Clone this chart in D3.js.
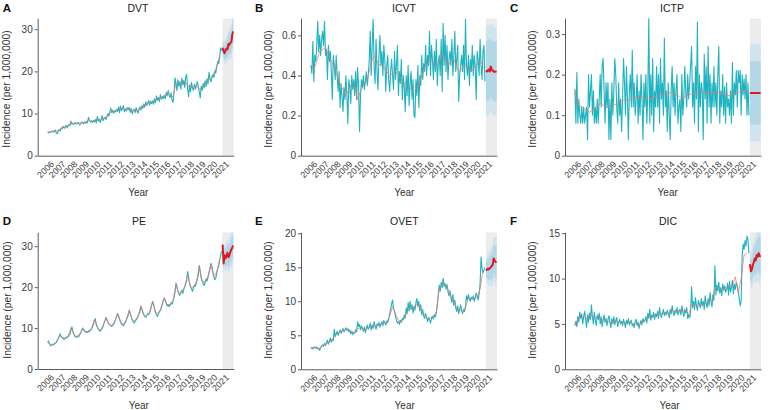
<!DOCTYPE html>
<html><head><meta charset="utf-8">
<script src="https://cdn.jsdelivr.net/npm/d3@7"></script>
<style>body{margin:0;background:#fff;} svg{display:block;font-family:"Liberation Sans",Arial,sans-serif;}</style>
</head><body><svg id="c" width="772" height="410"></svg>
<script>
// ---------- DATA ----------
const years = [2006,2007,2008,2009,2010,2011,2012,2013,2014,2015,2016,2017,2018,2019,2020,2021];

// DVT (monthly observed 2006-2020, quarterly fitted, monthly forecast 2021)
const dvtObs = [
5.5,5.4,5.6,5.5,5.7,5.9,5.6,5.8,6.1,5.3,5.2,5.9,
6.2,5.9,6.6,6.4,7.0,6.5,6.8,7.2,6.6,7.0,7.4,7.1,
8.2,7.5,7.7,7.4,7.8,7.6,7.5,7.9,7.7,7.3,7.6,8.0,
7.8,7.6,8.0,7.7,8.1,7.8,9.1,8.5,8.0,8.2,7.9,8.4,
8.0,8.6,7.8,9.3,8.2,8.7,7.9,8.4,9.5,8.3,8.8,9.1,
8.6,9.2,10.0,9.4,10.4,11.3,10.2,10.8,10.1,10.6,10.4,11.0,
10.5,11.6,10.2,11.8,10.7,11.2,11.9,10.4,11.1,10.6,11.4,10.9,
11.5,10.3,11.2,9.9,10.8,11.0,10.2,11.4,10.6,10.1,11.0,11.6,
10.8,11.9,11.2,12.3,11.5,12.8,11.9,12.5,13.1,12.0,12.9,12.4,
13.0,12.2,13.5,12.6,14.2,13.1,13.8,12.9,14.5,13.4,14.0,13.6,
14.3,13.5,15.0,14.2,15.5,14.4,13.8,14.9,13.2,12.6,14.8,18.5,
17.2,15.4,18.0,16.5,17.6,15.8,18.4,16.8,17.9,16.2,18.6,19.3,
16.0,14.0,16.8,15.2,17.4,16.1,15.5,17.0,15.8,16.6,17.6,16.3,
15.1,13.7,16.5,15.5,17.2,16.0,17.8,16.4,18.3,17.0,19.8,18.2,
17.5,18.4,19.2,18.6,20.1,19.6,21.2,22.4,21.8,23.5,25.6,24.9];
const dvtFit = [5.6,5.7,5.8,5.8, 6.2,6.6,6.9,7.2, 7.7,7.7,7.8,7.7, 7.9,8.0,8.4,8.2, 8.3,8.7,8.6,8.8,
 9.3,10.1,10.5,10.6, 11.0,11.2,11.0,11.0, 10.9,10.6,10.8,10.8, 11.3,12.0,12.3,12.6, 12.9,13.3,13.5,13.9,
 14.2,14.6,14.3,14.0, 17.2,17.0,17.3,17.6, 16.5,16.2,16.3,16.6, 15.8,16.2,16.9,17.8, 18.6,19.6,21.2,23.8];
const dvtFc   = [25.6,24.8,24.3,25.0,25.4,25.2,26.5,26.3,26.8,27.0,28.8,29.5];
const dvtLo80 = [24.1,23.1,22.5,23.0,23.3,23.0,24.2,23.9,24.3,24.4,26.1,26.7];
const dvtHi80 = [27.1,26.5,26.1,27.0,27.5,27.4,28.8,28.7,29.3,29.6,31.5,32.3];
const dvtLo95 = [23.3,22.2,21.5,22.0,22.2,21.8,23.0,22.6,22.9,23.0,24.7,25.2];
const dvtHi95 = [27.9,27.4,27.1,28.0,28.6,28.6,30.0,30.0,30.7,31.0,32.9,33.8];

// ICVT
const icvtObs = [
0.45,0.41,0.57,0.37,0.50,0.47,0.55,0.67,0.52,0.60,0.50,0.58,
0.62,0.55,0.67,0.50,0.53,0.38,0.55,0.47,0.52,0.42,0.28,0.50,
0.45,0.38,0.50,0.40,0.32,0.42,0.24,0.36,0.30,0.22,0.34,0.28,
0.40,0.30,0.16,0.38,0.34,0.26,0.40,0.33,0.38,0.30,0.42,0.28,
0.44,0.35,0.12,0.30,0.38,0.34,0.40,0.33,0.37,0.42,0.35,0.40,
0.48,0.62,0.40,0.55,0.68,0.45,0.36,0.58,0.42,0.33,0.50,0.60,
0.45,0.52,0.40,0.55,0.48,0.32,0.45,0.50,0.38,0.32,0.42,0.48,
0.40,0.33,0.52,0.38,0.45,0.55,0.30,0.42,0.36,0.48,0.28,0.40,
0.34,0.22,0.40,0.30,0.45,0.25,0.36,0.42,0.28,0.38,0.20,0.19,
0.38,0.30,0.45,0.24,0.40,0.35,0.50,0.38,0.46,0.42,0.55,0.40,
0.50,0.45,0.62,0.40,0.55,0.48,0.38,0.52,0.42,0.58,0.35,0.46,
0.50,0.40,0.58,0.32,0.66,0.45,0.60,0.42,0.55,0.38,0.48,0.52,
0.45,0.58,0.40,0.50,0.62,0.42,0.48,0.55,0.27,0.40,0.45,0.50,
0.42,0.55,0.38,0.68,0.45,0.40,0.50,0.35,0.48,0.42,0.55,0.40,
0.50,0.45,0.28,0.52,0.48,0.40,0.58,0.45,0.38,0.52,0.55,0.37];
const icvtFit = [0.45,0.43,0.47,0.52, 0.53,0.54,0.50,0.47, 0.44,0.40,0.36,0.33, 0.30,0.33,0.36,0.35, 0.28,0.32,0.35,0.37,
 0.42,0.48,0.50,0.46, 0.45,0.44,0.42,0.40, 0.41,0.42,0.40,0.38, 0.36,0.35,0.34,0.32, 0.33,0.36,0.40,0.44,
 0.46,0.48,0.47,0.45, 0.47,0.50,0.48,0.45, 0.47,0.48,0.44,0.42, 0.44,0.45,0.43,0.42, 0.44,0.46,0.47,0.45];
const icvtFc   = [0.425,0.420,0.425,0.430,0.420,0.445,0.430,0.425,0.420,0.418,0.420,0.420];
const icvtLo80 = [0.28,0.27,0.27,0.28,0.27,0.30,0.28,0.28,0.27,0.27,0.27,0.27];
const icvtHi80 = [0.57,0.57,0.58,0.58,0.57,0.59,0.58,0.57,0.57,0.57,0.57,0.57];
const icvtLo95 = [0.21,0.19,0.20,0.21,0.20,0.23,0.21,0.20,0.20,0.20,0.20,0.20];
const icvtHi95 = [0.64,0.65,0.65,0.65,0.64,0.66,0.65,0.65,0.64,0.64,0.64,0.64];

// ICTP
const ictpObs = [
0.165,0.08,0.205,0.08,0.14,0.10,0.08,0.12,0.08,0.12,0.08,0.10,
0.12,0.04,0.20,0.12,0.16,0.20,0.10,0.16,0.08,0.12,0.08,0.14,
0.08,0.14,0.20,0.12,0.22,0.24,0.16,0.08,0.18,0.12,0.18,0.04,
0.14,0.04,0.18,0.10,0.16,0.24,0.20,0.12,0.08,0.18,0.10,0.14,
0.06,0.14,0.24,0.18,0.10,0.22,0.14,0.04,0.16,0.20,0.12,0.26,
0.12,0.18,0.10,0.14,0.20,0.08,0.16,0.10,0.20,0.14,0.04,0.18,
0.12,0.20,0.08,0.16,0.34,0.08,0.20,0.10,0.24,0.06,0.16,0.12,
0.22,0.12,0.20,0.08,0.24,0.14,0.18,0.10,0.29,0.12,0.16,0.06,
0.18,0.10,0.04,0.16,0.22,0.12,0.18,0.10,0.16,0.20,0.08,0.12,
0.14,0.06,0.20,0.10,0.14,0.22,0.16,0.12,0.20,0.14,0.18,0.22,
0.27,0.12,0.18,0.08,0.22,0.14,0.33,0.06,0.20,0.12,0.18,0.16,
0.04,0.25,0.14,0.22,0.08,0.27,0.12,0.20,0.08,0.18,0.12,0.22,
0.12,0.18,0.10,0.20,0.27,0.08,0.16,0.12,0.20,0.10,0.17,0.08,
0.18,0.12,0.14,0.10,0.16,0.08,0.23,0.10,0.18,0.15,0.21,0.12,
0.21,0.18,0.21,0.10,0.20,0.15,0.19,0.14,0.20,0.10,0.18,0.10];
const ictpFit = [0.160,0.125,0.122,0.118, 0.110,0.108,0.112,0.118, 0.125,0.130,0.122,0.118, 0.124,0.128,0.126,0.128,
 0.134,0.138,0.136,0.140, 0.143,0.145,0.142,0.144, 0.142,0.140,0.142,0.145, 0.146,0.148,0.150,0.152,
 0.154,0.156,0.152,0.150, 0.145,0.143,0.147,0.150, 0.152,0.155,0.156,0.158, 0.158,0.155,0.156,0.157,
 0.155,0.156,0.154,0.152, 0.150,0.148,0.152,0.155, 0.156,0.158,0.160,0.158];
const ictpFc   = [0.155,0.155,0.155,0.155,0.155,0.155,0.155,0.155,0.155,0.155,0.155,0.155];
const ictpLo80 = [0.077,0.077,0.077,0.077,0.077,0.077,0.077,0.077,0.077,0.077,0.077,0.077];
const ictpHi80 = [0.233,0.233,0.233,0.233,0.233,0.233,0.233,0.233,0.233,0.233,0.233,0.233];
const ictpLo95 = [0.035,0.035,0.035,0.035,0.035,0.035,0.035,0.035,0.035,0.035,0.035,0.035];
const ictpHi95 = [0.275,0.275,0.275,0.275,0.275,0.275,0.275,0.275,0.275,0.275,0.275,0.275];

// PE
const peObs = [
6.5,6.8,6.2,5.7,5.9,5.8,6.0,6.1,6.3,6.5,7.0,7.4,
8.0,8.6,7.9,7.6,7.4,7.2,7.5,7.8,7.6,7.9,8.3,8.5,
9.5,10.3,9.2,8.5,8.0,7.8,7.7,8.1,7.9,8.4,8.8,9.4,
10.0,9.6,9.3,9.0,9.2,8.9,9.3,9.1,9.5,9.7,10.2,10.8,
11.8,12.3,11.0,10.4,9.8,9.5,9.2,9.6,9.8,10.4,11.2,11.8,
12.6,12.1,11.4,11.0,10.8,10.5,10.4,10.7,11.0,11.5,12.2,12.8,
13.5,13.0,12.2,11.5,11.0,10.8,10.5,11.0,11.3,12.0,12.6,13.2,
14.2,13.6,12.8,12.0,11.5,11.2,11.6,12.0,12.3,12.8,13.4,14.0,
15.2,14.6,13.8,13.2,12.8,12.6,13.0,13.5,13.3,13.8,14.5,15.5,
16.5,15.8,14.6,13.8,13.2,12.8,13.5,14.0,14.3,15.0,15.8,16.8,
17.2,16.8,16.0,15.4,15.8,15.2,15.6,16.2,15.8,16.6,17.5,18.6,
21.0,20.2,19.0,18.5,18.0,18.8,19.2,18.4,19.5,20.0,20.8,21.5,
23.8,22.5,21.0,20.0,19.6,19.0,19.8,20.5,20.2,21.0,22.0,23.0,
25.3,23.8,22.2,21.5,20.8,20.4,21.2,22.0,21.5,22.4,23.5,24.6,
25.8,25.0,23.8,22.5,21.8,22.2,23.5,24.5,25.2,26.5,27.8,28.8];
const peFit = [6.4,6.0,6.1,6.6, 8.2,7.7,7.6,8.0, 10.0,8.4,7.9,8.5, 9.8,9.0,9.2,9.8, 12.0,10.2,9.4,10.6,
 12.5,11.0,10.6,11.6, 13.6,11.6,10.8,12.2, 14.5,12.0,11.8,13.0, 15.5,13.2,13.1,14.0, 16.5,13.8,13.6,15.2,
 17.5,15.5,15.8,16.8, 20.5,18.4,18.8,20.2, 23.0,20.0,20.0,21.3, 25.0,21.4,21.4,22.8, 25.5,22.4,23.8,26.8];
const peFc   = [30.4,25.8,27.8,27.0,27.6,28.4,27.3,27.8,28.6,29.2,29.6,30.2];
const peLo80 = [28.8,24.0,25.8,24.9,25.3,26.0,24.8,25.2,25.9,26.4,26.7,27.2];
const peHi80 = [32.0,27.6,29.8,29.1,29.9,30.8,29.8,30.4,31.3,32.0,32.5,33.2];
const peLo95 = [27.9,23.0,24.7,23.8,24.1,24.7,23.5,23.8,24.4,24.9,25.1,25.6];
const peHi95 = [32.9,28.6,30.9,30.2,31.1,32.1,31.1,31.8,32.8,33.5,34.1,34.8];

// OVET
const ovetObs = [
3.1,3.2,3.0,3.3,3.2,3.1,3.3,3.0,3.1,2.8,3.2,3.4,
3.6,3.4,3.8,3.5,3.9,4.3,3.7,4.1,4.6,4.0,4.4,4.2,
5.9,4.8,5.2,5.6,5.0,5.4,5.8,5.3,5.6,6.0,5.5,5.8,
6.1,5.7,6.0,5.5,5.8,5.2,5.6,5.1,5.4,5.3,5.8,5.5,
7.0,6.3,6.6,5.8,6.4,6.0,5.6,6.2,5.4,6.0,6.5,5.9,
6.2,6.8,5.8,6.5,6.0,7.0,6.3,5.9,6.7,6.4,6.9,6.2,
6.6,7.0,6.4,7.2,6.8,6.5,7.1,6.9,7.4,8.2,8.8,9.6,
10.2,9.0,8.5,7.8,7.2,6.8,7.0,6.6,7.2,6.9,7.5,7.3,
8.0,7.5,9.0,8.2,9.8,8.6,10.0,8.8,9.5,8.3,9.2,8.7,
9.8,10.4,9.2,10.0,8.6,9.5,8.0,8.8,7.8,7.5,8.2,7.6,
7.0,7.6,7.3,6.8,7.5,7.8,7.4,8.0,7.7,8.3,9.5,11.0,
12.4,11.5,12.8,12.0,13.4,12.2,12.6,11.8,12.5,11.4,10.8,11.6,
10.5,9.8,11.0,9.4,10.2,9.0,8.5,9.3,8.2,8.8,9.5,8.6,
8.2,8.8,8.5,9.2,10.8,10.2,11.0,10.4,10.0,10.6,10.3,10.8,
10.0,10.5,11.2,10.8,10.2,11.0,12.5,16.5,14.8,14.2,14.6,15.0];
const ovetFit = [3.1,3.2,3.1,3.1, 3.4,3.7,3.9,4.2, 4.8,5.2,5.5,5.7, 5.9,5.8,5.5,5.4, 6.0,6.1,5.9,5.9,
 6.2,6.3,6.4,6.5, 6.6,6.8,7.0,7.8, 9.2,8.2,7.2,7.0, 7.6,8.4,9.0,9.0, 9.6,9.4,8.6,8.0,
 7.5,7.6,7.8,8.5, 11.8,12.4,12.5,11.8, 10.8,10.0,9.0,8.8, 8.4,9.2,10.4,10.4, 10.5,10.7,11.8,14.5];
const ovetFc   = [14.7,14.6,14.8,14.7,14.9,15.0,15.2,15.4,16.3,16.0,15.8,15.8];
const ovetLo80 = [13.6,13.3,13.3,13.1,13.2,13.2,13.3,13.4,14.2,13.8,13.5,13.4];
const ovetHi80 = [15.8,15.9,16.3,16.3,16.6,16.8,17.1,17.4,18.4,18.2,18.1,18.2];
const ovetLo95 = [13.0,12.6,12.5,12.2,12.3,12.2,12.3,12.3,13.1,12.6,12.3,12.1];
const ovetHi95 = [16.4,16.6,17.1,17.2,17.5,17.8,18.1,18.5,19.5,19.4,19.3,19.5];

// DIC
const dicObs = [
4.8,5.3,4.7,5.8,5.2,6.3,5.6,6.1,5.0,5.8,6.4,5.5,
4.6,6.0,5.2,6.2,5.5,7.1,5.8,5.0,6.3,5.4,4.8,6.0,
5.5,6.2,5.0,5.8,4.7,5.4,6.0,5.2,5.6,4.8,5.5,5.9,
5.2,4.6,5.6,5.0,5.8,4.9,5.4,5.7,4.7,5.2,5.5,5.0,
5.3,4.8,5.5,5.1,4.6,5.4,5.0,5.6,4.9,5.2,5.4,4.8,
5.0,4.6,5.3,5.5,4.8,5.2,4.5,5.0,5.4,4.9,5.6,5.2,
5.4,5.8,5.1,6.2,5.6,6.6,5.4,6.0,5.7,6.3,5.5,6.1,
5.8,6.4,5.6,6.8,6.0,5.7,6.2,6.6,5.9,6.3,6.0,6.5,
6.2,5.7,6.6,6.1,7.0,6.3,5.9,6.5,6.2,6.8,6.0,6.4,
6.6,6.0,7.0,6.3,5.8,6.6,6.2,6.8,5.6,6.0,5.7,6.3,
9.1,6.8,7.5,6.6,7.9,7.0,6.5,7.6,7.2,6.8,7.8,7.0,
7.5,6.6,8.1,7.2,6.8,7.8,7.0,8.5,7.4,6.9,8.2,7.6,
11.4,8.2,9.3,8.6,9.6,8.4,9.0,8.1,9.4,8.7,9.2,8.5,
8.8,9.5,8.2,9.7,8.5,9.0,9.8,8.3,9.4,8.8,9.6,9.2,
8.6,7.8,7.0,7.5,12.5,13.8,13.2,14.2,13.6,14.7,14.3,12.8];
const dicFit = [4.9,5.5,5.7,5.8, 5.6,6.0,5.9,5.6, 5.9,5.6,5.4,5.3, 5.2,5.3,5.3,5.2, 5.2,5.1,5.2,5.1,
 5.0,5.0,4.9,5.2, 5.4,5.7,5.8,5.9, 6.0,6.2,6.1,6.2, 6.2,6.3,6.4,6.4, 6.5,6.4,6.5,6.0,
 7.2,7.1,7.0,7.2, 7.1,7.3,7.5,7.6, 9.0,9.0,8.8,8.9, 9.0,9.2,9.1,10.2, 8.4,10.0,12.6,12.8];
const dicFc   = [11.6,10.8,11.0,11.5,11.8,12.2,12.0,12.6,12.4,12.8,12.5,12.4];
const dicLo80 = [10.6,9.6,9.7,10.1,10.3,10.6,10.3,10.8,10.5,10.8,10.4,10.3];
const dicHi80 = [12.6,12.0,12.3,12.9,13.3,13.8,13.7,14.4,14.3,14.8,14.6,14.5];
const dicLo95 = [10.0,8.9,9.0,9.3,9.5,9.8,9.4,9.9,9.5,9.8,9.3,9.2];
const dicHi95 = [13.2,12.7,13.0,13.7,14.1,14.6,14.6,15.3,15.3,15.8,15.7,15.6];

const dvtTicks = [0,10,20,30], icvtTicks = [0,0.2,0.4,0.6], ictpTicks = [0,0.1,0.2,0.3];
const peTicks = [0,10,20,30], ovetTicks = [0,5,10,15,20], dicTicks = [0,5,10,15];

// ---------- LAYOUT ----------
const panels = [
 {letter:"A", title:"DVT",  obs:dvtObs,  fit:dvtFit,  fc:dvtFc,  lo80:dvtLo80,  hi80:dvtHi80,  lo95:dvtLo95,  hi95:dvtHi95,  ticks:dvtTicks,
  yMax:32.6, left:37.7, top:18.3, bottom:155.7, titleX:138, yTitleX:10, yTitleY:89, yearX:138.3, row:0},
 {letter:"B", title:"ICVT", obs:icvtObs, fit:icvtFit, fc:icvtFc, lo80:icvtLo80, hi80:icvtHi80, lo95:icvtLo95, hi95:icvtHi95, ticks:icvtTicks,
  yMax:0.685, left:301, top:18.3, bottom:155.7, titleX:404, yTitleX:272, yTitleY:89, yearX:404.3, row:0},
 {letter:"C", title:"ICTP", obs:ictpObs, fit:ictpFit, fc:ictpFc, lo80:ictpLo80, hi80:ictpHi80, lo95:ictpLo95, hi95:ictpHi95, ticks:ictpTicks,
  yMax:0.339, left:565, top:18.3, bottom:155.7, titleX:672, yTitleX:535.5, yTitleY:89, yearX:667.7, row:0},
 {letter:"D", title:"PE",   obs:peObs,   fit:peFit,   fc:peFc,   lo80:peLo80,   hi80:peHi80,   lo95:peLo95,   hi95:peHi95,   ticks:peTicks,
  yMax:33.4, left:37.7, top:232.3, bottom:369, titleX:139, yTitleX:10.5, yTitleY:300, yearX:138.8, row:1},
 {letter:"E", title:"OVET", obs:ovetObs, fit:ovetFit, fc:ovetFc, lo80:ovetLo80, hi80:ovetHi80, lo95:ovetLo95, hi95:ovetHi95, ticks:ovetTicks,
  yMax:20.15, left:301, top:232.3, bottom:369.3, titleX:404.3, yTitleX:272, yTitleY:300, yearX:404.7, row:1},
 {letter:"F", title:"DIC",  obs:dicObs,  fit:dicFit,  fc:dicFc,  lo80:dicLo80,  hi80:dicHi80,  lo95:dicLo95,  hi95:dicHi95,  ticks:dicTicks,
  yMax:15.1, left:565, top:232.3, bottom:369.3, titleX:668, yTitleX:535.5, yTitleY:300, yearX:669.5, row:1}
];
const letterX = [2.7, 255, 510];
const PW = 196, X0 = 2005.15, X1 = 2021.95;
const titleBase = [12.3, 224.5], yearBase = [196, 408.5];

const svg = d3.select("#c");
const defs = svg.append("defs");

panels.forEach((p, pi) => {
  const x = d3.scaleLinear().domain([X0, X1]).range([p.left, p.left + PW]);
  const y = d3.scaleLinear().domain([0, p.yMax]).range([p.bottom, p.top]);
  const cid = "clip" + p.letter;
  defs.append("clipPath").attr("id", cid).append("rect")
    .attr("x", p.left).attr("y", p.top).attr("width", PW).attr("height", p.bottom - p.top);
  const g = svg.append("g");
  const pg = g.append("g").attr("clip-path", `url(#${cid})`);

  // forecast period background
  pg.append("rect").attr("x", x(2021)).attr("y", p.top)
    .attr("width", x(X1) - x(2021)).attr("height", p.bottom - p.top).attr("fill", "#ececec");

  const fx = (d, i) => x(2021 + i / 12);
  const a95 = d3.area().x(fx).y0((d, i) => y(p.lo95[i])).y1((d, i) => y(p.hi95[i]));
  const a80 = d3.area().x(fx).y0((d, i) => y(p.lo80[i])).y1((d, i) => y(p.hi80[i]));
  pg.append("path").datum(p.fc).attr("d", a95).attr("fill", "#cfe4ef");
  pg.append("path").datum(p.fc).attr("d", a80).attr("fill", "#b4d7e8");

  const lObs = d3.line().x((d, i) => x(2006 + i / 12)).y(d => y(d));
  const lFit = d3.line().x((d, i) => x(2006 + i * 3 / 12)).y(d => y(d));
  pg.append("path").datum(p.obs).attr("d", lObs).attr("fill", "none")
    .attr("stroke", "#1db3c1").attr("stroke-width", 1.1).attr("stroke-linejoin", "round");
  pg.append("path").datum(p.fit).attr("d", lFit).attr("fill", "none")
    .attr("stroke", "#f0756e").attr("stroke-opacity", 0.75).attr("stroke-width", 1);
  pg.append("path").datum(p.fc).attr("d", d3.line().x(fx).y(d => y(d))).attr("fill", "none")
    .attr("stroke", "#e3161d").attr("stroke-width", 2).attr("stroke-linejoin", "round");

  // y axis
  const fmt = p.yMax < 1 ? (d => d === 0 ? "0" : d3.format(".1f")(d)) : d3.format("d");
  const ya = g.append("g").attr("transform", `translate(${p.left},0)`)
    .call(d3.axisLeft(y).tickValues(p.ticks).tickSize(3).tickSizeOuter(0).tickPadding(2).tickFormat(fmt));
  ya.select(".domain").attr("stroke", "#5a5a5a");
  ya.selectAll(".tick line").attr("stroke", "#5a5a5a");
  ya.selectAll("text").attr("fill", "#3a3a3a").style("font-size", "10px").style("font-family", "Liberation Sans, Arial, sans-serif");

  // x axis
  const xa = g.append("g").attr("transform", `translate(0,${p.bottom})`)
    .call(d3.axisBottom(x).tickValues(years).tickSize(0).tickSizeOuter(0).tickFormat(d3.format("d")));
  xa.select(".domain").attr("stroke", "#5a5a5a");
  xa.selectAll("text").attr("x", 0).attr("y", 0).attr("dy", 0)
    .attr("transform", "translate(6.5,9) rotate(-45)")
    .style("text-anchor", "end").attr("fill", "#3a3a3a")
    .style("font-size", "8.8px").style("font-family", "Liberation Sans, Arial, sans-serif");

  // texts
  svg.append("text").attr("x", p.titleX).attr("y", titleBase[p.row]).attr("text-anchor", "middle")
    .attr("font-size", 10.5).attr("fill", "#222").text(p.title);
  svg.append("text").attr("x", letterX[pi % 3]).attr("y", titleBase[p.row])
    .attr("font-size", 11.5).attr("font-weight", "bold").attr("fill", "#111").text(p.letter);
  svg.append("text").attr("transform", `translate(${p.yTitleX},${p.yTitleY}) rotate(-90)`)
    .attr("text-anchor", "middle").attr("font-size", 10.3).attr("fill", "#333").text("Incidence (per 1,000,000)");
  svg.append("text").attr("x", p.yearX).attr("y", yearBase[p.row]).attr("text-anchor", "middle")
    .attr("font-size", 10).attr("fill", "#333").text("Year");
});
</script>
</body></html>
